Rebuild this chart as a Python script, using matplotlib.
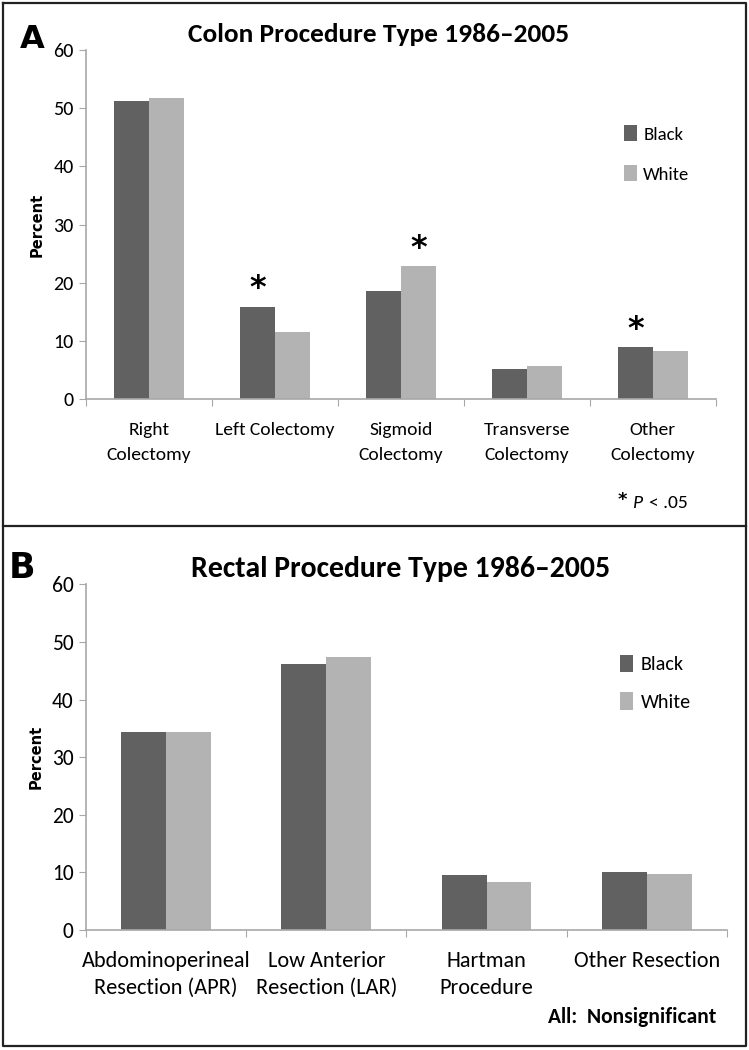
import numpy as np
import matplotlib
matplotlib.use("Agg")
import matplotlib.pyplot as plt
from matplotlib.lines import Line2D

plt.rcParams['font.family'] = ['Carlito', 'Lato', 'DejaVu Sans']

"""DATA"""
colon_cats = ["Right\nColectomy", "Left Colectomy", "Sigmoid\nColectomy",
              "Transverse\nColectomy", "Other\nColectomy"]
colon_black = [51.2, 15.9, 18.6, 5.2, 9.0]
colon_white = [51.8, 11.5, 22.9, 5.8, 8.3]
# (category index, series) marked significant
colon_sig = [(1, "Black"), (2, "White"), (4, "Black")]

rectal_cats = ["Abdominoperineal\nResection (APR)", "Low Anterior\nResection (LAR)",
               "Hartman\nProcedure", "Other Resection"]
rectal_black = [34.4, 46.2, 9.5, 10.1]
rectal_white = [34.4, 47.3, 8.4, 9.8]

yticks = [0, 10, 20, 30, 40, 50, 60]

BLACK_C = "#616161"
WHITE_C = "#b3b3b3"
AXIS_C = "#a8a8a8"
W = 0.28

fig = plt.figure(figsize=(7.49, 10.5), dpi=100)


def panel(rect, cats, black, white, title, fs):
    # fs: dict of font sizes / spacing for this panel
    ax = fig.add_axes(rect)
    x = np.arange(len(cats))
    ax.bar(x - W / 2, black, W, color=BLACK_C, label="Black")
    ax.bar(x + W / 2, white, W, color=WHITE_C, label="White")
    ax.set_xlim(-0.5, len(cats) - 0.5)
    ax.set_ylim(0, 60)
    ax.set_yticks(yticks)
    ax.set_xticks(np.arange(len(cats) + 1) - 0.5)
    ax.set_xticklabels([])
    ax.set_xticks(x, minor=True)
    ax.set_xticklabels(cats, minor=True, fontsize=fs['cat'], linespacing=fs['ls'])
    ax.tick_params(axis='x', which='minor', length=0, pad=fs['pad'])
    ax.tick_params(axis='x', which='major', length=5, color=AXIS_C, direction='out')
    ax.tick_params(axis='y', length=5, color=AXIS_C, labelsize=fs['tick'], pad=4)
    for s in ['top', 'right']:
        ax.spines[s].set_visible(False)
    for s in ['left', 'bottom']:
        ax.spines[s].set_color(AXIS_C)
        ax.spines[s].set_linewidth(1.2)
    ax.set_ylabel("Percent", family='DejaVu Sans', fontweight='bold', fontsize=10.5)
    ax.yaxis.set_label_coords(-0.066, 0.5)
    ax.legend(loc='upper left', bbox_to_anchor=fs['leg'], frameon=False,
              fontsize=fs['legfs'], handlelength=0.65, handleheight=0.95, handletextpad=0.35,
              labelspacing=fs['legsp'], borderpad=0)
    ax.set_title(title, fontsize=fs['title'], fontweight='bold', pad=fs['tpad'], x=fs['tx'])
    return ax


axA = panel([0.1148, 0.6197, 0.841, 0.3327], colon_cats, colon_black, colon_white,
            "Colon Procedure Type 1986\u20132005",
            dict(cat=14, ls=1.75, pad=16, tick=14.5, leg=(0.84, 0.812), legfs=13.5,
                 legsp=1.2, title=19.7, tpad=6, tx=0.465))
for i, s in colon_sig:
    if s == "Black":
        xx, v = i - W / 2, colon_black[i]
    else:
        xx, v = i + W / 2, colon_white[i]
    axA.text(xx, v + 1.6, "*", ha='center', va='baseline', fontsize=23,
             fontweight='bold', family='DejaVu Sans')

axB = panel([0.1148, 0.1143, 0.8558, 0.3292], rectal_cats, rectal_black, rectal_white,
            "Rectal Procedure Type 1986\u20132005",
            dict(cat=16, ls=1.42, pad=15, tick=15.5, leg=(0.818, 0.826), legfs=14.5,
                 legsp=0.95, title=21.4, tpad=5, tx=0.49))

fig.text(0.027, 0.954, "A", fontsize=23, fontweight='bold', family='DejaVu Sans')
fig.text(0.012, 0.4495, "B", fontsize=25, fontweight='bold', family='DejaVu Sans')

fig.text(0.824, 0.519, "*", fontsize=13, fontweight='bold', family='DejaVu Sans')
fig.text(0.845, 0.516, "P", fontsize=14, style='italic')
fig.text(0.866, 0.516, "< .05", fontsize=14)
fig.text(0.957, 0.026, "All:  Nonsignificant", fontsize=15.5, fontweight='bold', ha='right')

# outer frame and divider
fig.add_artist(Line2D([0.004, 0.996, 0.996, 0.004, 0.004],
                      [0.997, 0.997, 0.004, 0.004, 0.997],
                      color='#222222', lw=1.6, transform=fig.transFigure))
fig.add_artist(Line2D([0.004, 0.996], [0.4995, 0.4995],
                      color='#222222', lw=1.6, transform=fig.transFigure))

fig.savefig("out.png", dpi=100)
